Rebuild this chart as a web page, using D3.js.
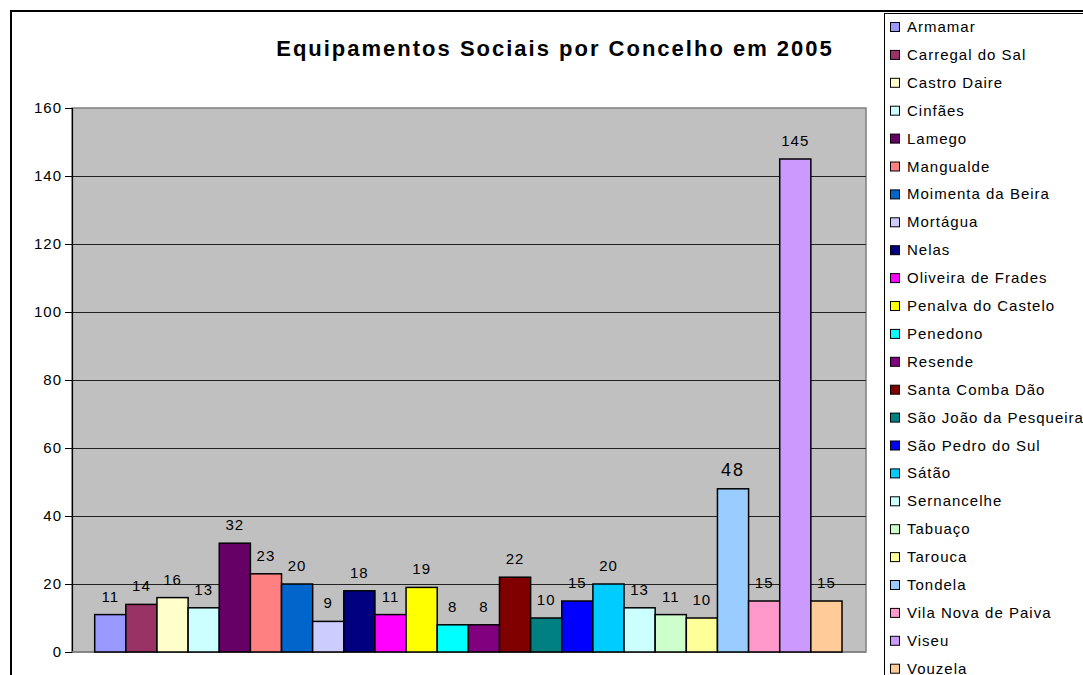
<!DOCTYPE html>
<html><head><meta charset="utf-8">
<script src="https://cdn.jsdelivr.net/npm/d3@7"></script>
<style>body{margin:0;background:#fff}svg{display:block;font-family:"Liberation Sans",Arial,sans-serif}</style>
</head><body>
<svg id="c" width="1083" height="675"></svg>
<script>
const categories = ["Armamar","Carregal do Sal","Castro Daire","Cinfães","Lamego","Mangualde","Moimenta da Beira","Mortágua","Nelas","Oliveira de Frades","Penalva do Castelo","Penedono","Resende","Santa Comba Dão","São João da Pesqueira","São Pedro do Sul","Sátão","Sernancelhe","Tabuaço","Tarouca","Tondela","Vila Nova de Paiva","Viseu","Vouzela"];
const values = [11,14,16,13,32,23,20,9,18,11,19,8,8,22,10,15,20,13,11,10,48,15,145,15];
const colors = ["#9999FF","#993366","#FFFFCC","#CCFFFF","#660066","#FF8080","#0066CC","#CCCCFF","#000080","#FF00FF","#FFFF00","#00FFFF","#800080","#800000","#008080","#0000FF","#00CCFF","#CCFFFF","#CCFFCC","#FFFF99","#99CCFF","#FF99CC","#CC99FF","#FFCC99"];
const yTicks = [0,20,40,60,80,100,120,140,160];
const title = "Equipamentos Sociais por Concelho em 2005";

const svg = d3.select("#c");
const P = {l:72, r:866, t:108, b:652};
const y = d3.scaleLinear().domain([0,160]).range([P.b,P.t]);
const x = d3.scaleBand().domain(categories).range([94.7,842]).padding(0);

// outer frame
svg.append("path").attr("d","M11,675 L11,11 L1083,11").attr("fill","none").attr("stroke","#000").attr("stroke-width",2);

// plot area
svg.append("rect").attr("x",P.l).attr("y",P.t).attr("width",P.r-P.l).attr("height",P.b-P.t)
  .attr("fill","#C0C0C0").attr("stroke","#808080").attr("stroke-width",1.5);

// gridlines
svg.append("g").selectAll("line").data(yTicks.filter(d=>d>0&&d<160)).join("line")
  .attr("x1",P.l).attr("x2",P.r).attr("y1",d=>Math.round(y(d))+0.5).attr("y2",d=>Math.round(y(d))+0.5)
  .attr("stroke","#222").attr("stroke-width",1);

// axis
const ax = svg.append("g").attr("transform",`translate(${P.l},0)`)
  .call(d3.axisLeft(y).tickValues(yTicks).tickSize(7).tickPadding(3));
ax.select(".domain").attr("stroke","#000").attr("stroke-width",1.2);
ax.selectAll(".tick line").attr("stroke","#000");
ax.selectAll("text").attr("font-size",15).attr("letter-spacing",1).attr("fill","#000").attr("font-family","Liberation Sans, Arial, sans-serif");
// bottom baseline
svg.append("line").attr("x1",P.l).attr("x2",P.r).attr("y1",P.b).attr("y2",P.b).attr("stroke","#808080").attr("stroke-width",1.5);

// bars
svg.append("g").selectAll("rect").data(values).join("rect")
  .attr("x",(d,i)=>x(categories[i])).attr("width",x.bandwidth())
  .attr("y",d=>y(d)).attr("height",d=>P.b-y(d))
  .attr("fill",(d,i)=>colors[i]).attr("stroke","#000").attr("stroke-width",1.5);

// labels
svg.append("g").selectAll("text").data(values).join("text")
  .attr("x",(d,i)=>x(categories[i])+x.bandwidth()/2)
  .attr("y",d=>y(d)-(d===48?13:13))
  .attr("text-anchor","middle").attr("font-size",d=>d===48?18:15).attr("letter-spacing",d=>d===48?2:1).attr("fill","#000")
  .text(d=>d);

// title
svg.append("text").attr("x",555).attr("y",56).attr("text-anchor","middle")
  .attr("font-size",22).attr("letter-spacing",2).attr("font-weight","bold").attr("fill","#000").text(title);

// legend
const lg = svg.append("g");
lg.append("rect").attr("x",884.5).attr("y",13.5).attr("width",210).attr("height",680)
  .attr("fill","#fff").attr("stroke","#000").attr("stroke-width",1);
const items = lg.selectAll("g.it").data(categories).join("g").attr("class","it")
  .attr("transform",(d,i)=>`translate(0,${27+i*27.9})`);
items.append("rect").attr("x",890.5).attr("y",-4.5).attr("width",9).attr("height",9)
  .attr("fill",(d,i)=>colors[i]).attr("stroke","#000").attr("stroke-width",1);
items.append("text").attr("x",907).attr("y",5).attr("font-size",15).attr("letter-spacing",1).attr("fill","#000").text(d=>d);
</script>
</body></html>
